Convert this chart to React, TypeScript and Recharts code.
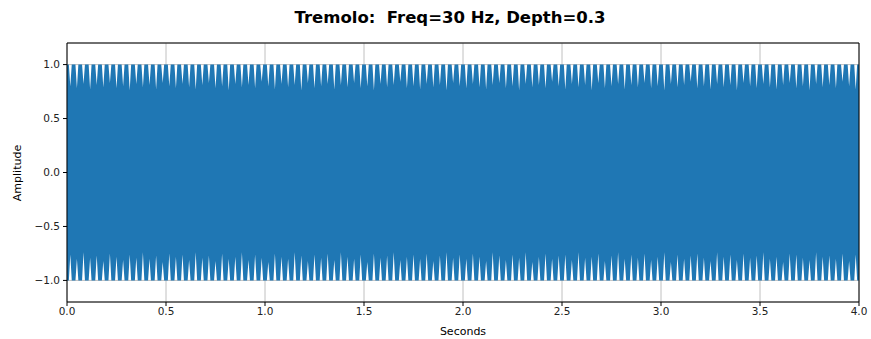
import {
  ComposedChart,
  Area,
  XAxis,
  YAxis,
  CartesianGrid,
  ReferenceLine,
} from "recharts";

// tremolo at 30 Hz over 4 s -> 120 envelope cycles
const cycleRate = 30;
const duration = 4;

// depth of each white notch on the upper edge
const upperTroughs = [
  0.8, 0.78, 0.82, 0.77, 0.81, 0.79, 0.83, 0.78, 0.8, 0.76, 0.82, 0.79, 0.81, 0.77, 0.83, 0.8, 0.78, 0.82, 0.79, 0.77,
  0.81, 0.83, 0.78, 0.8, 0.76, 0.82, 0.79, 0.81, 0.78, 0.84, 0.8, 0.77, 0.82, 0.79, 0.81, 0.76, 0.83, 0.78, 0.8, 0.82,
  0.77, 0.81, 0.79, 0.83, 0.78, 0.8, 0.76, 0.82, 0.79, 0.81, 0.84, 0.78, 0.8, 0.77, 0.82, 0.79, 0.81, 0.76, 0.83, 0.8,
  0.78, 0.82, 0.79, 0.77, 0.81, 0.83, 0.78, 0.8, 0.76, 0.82, 0.79, 0.81, 0.78, 0.84, 0.8, 0.77, 0.82, 0.79, 0.81, 0.76,
  0.83, 0.78, 0.8, 0.82, 0.77, 0.81, 0.79, 0.83, 0.78, 0.8, 0.76, 0.82, 0.79, 0.81, 0.84, 0.78, 0.8, 0.77, 0.82, 0.79,
  0.81, 0.76, 0.83, 0.8, 0.78, 0.82, 0.79, 0.77, 0.81, 0.83, 0.78, 0.8, 0.76, 0.82, 0.79, 0.81, 0.78, 0.84, 0.8, 0.77,
];

// same for the lower edge
const lowerTroughs = [
  -0.76, -0.8, -0.74, -0.79, -0.77, -0.82, -0.75, -0.78, -0.81, -0.76, -0.79, -0.74, -0.8, -0.77, -0.83, -0.75, -0.78, -0.76, -0.81, -0.74,
  -0.79, -0.77, -0.82, -0.75, -0.8, -0.78, -0.74, -0.81, -0.76, -0.79, -0.83, -0.75, -0.78, -0.8, -0.74, -0.77, -0.82, -0.76, -0.79, -0.75,
  -0.81, -0.74, -0.78, -0.8, -0.76, -0.83, -0.75, -0.79, -0.77, -0.74, -0.81, -0.78, -0.76, -0.8, -0.75, -0.82, -0.77, -0.74, -0.79, -0.76,
  -0.8, -0.75, -0.78, -0.82, -0.74, -0.77, -0.81, -0.76, -0.79, -0.74, -0.83, -0.78, -0.75, -0.8, -0.77, -0.76, -0.81, -0.74, -0.79, -0.78,
  -0.75, -0.82, -0.77, -0.74, -0.8, -0.76, -0.79, -0.75, -0.81, -0.78, -0.74, -0.83, -0.76, -0.8, -0.77, -0.75, -0.79, -0.82, -0.74, -0.78,
  -0.76, -0.81, -0.75, -0.79, -0.77, -0.74, -0.8, -0.78, -0.83, -0.75, -0.76, -0.79, -0.81, -0.74, -0.78, -0.77, -0.8, -0.75, -0.82, -0.76,
];

const xTicks = [0, 0.5, 1, 1.5, 2, 2.5, 3, 3.5, 4];
const yTicks = [-1, -0.5, 0, 0.5, 1];

const BLUE = "#1f77b4";
const FONT = "'DejaVu Sans', sans-serif";

// each cycle: peak plateau, a dip to the trough, back to peak
const data: { t: number; env: [number, number] }[] = [];
upperTroughs.forEach((top, i) => {
  const bot = lowerTroughs[i];
  data.push({ t: i / cycleRate, env: [-1, 1] });
  data.push({ t: (i + 0.28) / cycleRate, env: [-1, 1] });
  data.push({ t: (i + 0.5) / cycleRate, env: [bot, top] });
  data.push({ t: (i + 0.72) / cycleRate, env: [-1, 1] });
});
data.push({ t: duration, env: [-1, 1] });

const fmt = (v: number) => (v < 0 ? "\u2212" : "") + Math.abs(v).toFixed(1);

export default function App() {
  return (
    <div
      style={{
        position: "absolute",
        left: 0,
        top: 0,
        width: 871,
        height: 339,
        background: "#fff",
        fontFamily: FONT,
      }}
    >
      <div
        style={{
          position: "absolute",
          left: 0,
          width: 900,
          top: 8,
          textAlign: "center",
          fontSize: 16.5,
          fontWeight: "bold",
          color: "#000",
          whiteSpace: "pre",
        }}
      >
        {"Tremolo:  Freq=30 Hz, Depth=0.3"}
      </div>
      <div
        style={{
          position: "absolute",
          left: 17,
          top: 173,
          transform: "translate(-50%, -50%) rotate(-90deg)",
          fontSize: 11,
          color: "#000",
        }}
      >
        Amplitude
      </div>
      <div
        style={{
          position: "absolute",
          left: 463,
          top: 325,
          transform: "translateX(-50%)",
          fontSize: 11,
          color: "#000",
        }}
      >
        Seconds
      </div>
      <ComposedChart
        width={871}
        height={339}
        data={data}
        margin={{ top: 43, right: 12, bottom: 7, left: 7 }}
      >
        <CartesianGrid stroke="#b0b0b0" strokeWidth={0.8} />
        <XAxis
          dataKey="t"
          type="number"
          domain={[0, duration]}
          ticks={xTicks}
          tickFormatter={fmt}
          height={30}
          tickSize={4}
          tickMargin={2}
          stroke="#000"
          tick={{ fill: "#222", fontSize: 10.5, fontFamily: FONT }}
          allowDataOverflow
        />
        <YAxis
          type="number"
          domain={[-1.2, 1.2]}
          ticks={yTicks}
          tickFormatter={fmt}
          width={60}
          tickSize={4}
          tickMargin={3}
          stroke="#000"
          tick={{ fill: "#222", fontSize: 10.5, fontFamily: FONT }}
          allowDataOverflow
        />
        <Area
          dataKey="env"
          type="linear"
          stroke="none"
          fill={BLUE}
          fillOpacity={1}
          dot={false}
          activeDot={false}
          isAnimationActive={false}
        />
        <ReferenceLine y={1.2} stroke="#000" strokeWidth={1} />
        <ReferenceLine x={duration} stroke="#000" strokeWidth={1} />
      </ComposedChart>
    </div>
  );
}
